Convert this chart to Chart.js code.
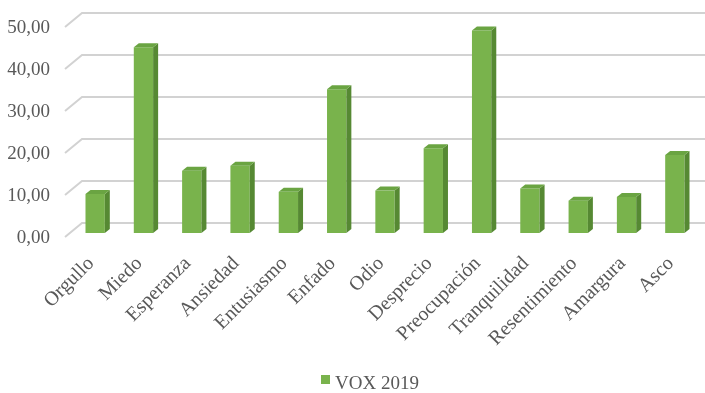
<!DOCTYPE html>
<html>
<head>
<meta charset="utf-8">
<script src="https://cdn.jsdelivr.net/npm/chart.js@4.4.1/dist/chart.umd.min.js"></script>
<style>
  body { margin: 0; background: #fff; }
  #chart { display: block; }
</style>
</head>
<body>
<canvas id="chart" width="705" height="393"></canvas>
<script>
const emociones = ['Orgullo', 'Miedo', 'Esperanza', 'Ansiedad', 'Entusiasmo', 'Enfado', 'Odio',
  'Desprecio', 'Preocupación', 'Tranquilidad', 'Resentimiento', 'Amargura', 'Asco'];
const vox2019 = [9.3, 44.2, 14.8, 16.0, 9.8, 34.2, 10.1, 20.2, 48.2, 10.6, 7.7, 8.6, 18.6];
const serieNombre = 'VOX 2019';
const ejeMin = 0;
const ejeMax = 50;
const ejePaso = 10;

const SERIF = "'Times New Roman', 'Liberation Serif', serif";
const GRIS_TEXTO = '#595959';
const VERDE = '#79b34c';
const VERDE_LADO = '#568933';
const VERDE_TOPE = '#6aa442';

// bar depth for the fake 3d look
const BAR_DX = 5, BAR_DY = 4;

const grid3d = {
  id: 'grid3d',
  beforeDatasetsDraw(chart) {
    const { ctx, chartArea, scales } = chart;
    const y = scales.y;
    ctx.save();
    ctx.strokeStyle = '#d2d2d2';
    ctx.lineWidth = 2;
    for (let v = ejeMin; v <= ejeMax; v += ejePaso) {
      const py = y.getPixelForValue(v);
      ctx.beginPath();
      ctx.moveTo(chartArea.left - 6, py + 4);
      ctx.lineTo(chartArea.left + 11, py - 10);
      ctx.lineTo(chart.width, py - 10);
      ctx.stroke();
    }
    ctx.restore();
  },
  afterDatasetsDraw(chart) {
    const { ctx } = chart;
    const meta = chart.getDatasetMeta(0);
    ctx.save();
    meta.data.forEach(bar => {
      const l = bar.x - bar.width / 2, r = bar.x + bar.width / 2;
      // side
      ctx.fillStyle = VERDE_LADO;
      ctx.beginPath();
      ctx.moveTo(r, bar.y);
      ctx.lineTo(r + BAR_DX, bar.y - BAR_DY);
      ctx.lineTo(r + BAR_DX, bar.base - BAR_DY);
      ctx.lineTo(r, bar.base);
      ctx.closePath();
      ctx.fill();
      // top
      ctx.fillStyle = VERDE_TOPE;
      ctx.beginPath();
      ctx.moveTo(l, bar.y);
      ctx.lineTo(l + BAR_DX, bar.y - BAR_DY);
      ctx.lineTo(r + BAR_DX, bar.y - BAR_DY);
      ctx.lineTo(r, bar.y);
      ctx.closePath();
      ctx.fill();
    });
    ctx.restore();
  },
  afterDraw(chart) {
    // legend
    const { ctx } = chart;
    ctx.save();
    ctx.fillStyle = VERDE;
    ctx.fillRect(321, 375, 9, 9);
    ctx.fillStyle = GRIS_TEXTO;
    ctx.font = '19px ' + SERIF;
    ctx.textBaseline = 'alphabetic';
    ctx.fillText(serieNombre, 335, 389);
    ctx.restore();
  }
};

new Chart(document.getElementById('chart').getContext('2d'), {
  type: 'bar',
  data: {
    labels: emociones,
    datasets: [{
      label: serieNombre,
      data: vox2019,
      backgroundColor: VERDE,
      borderWidth: 0,
      barPercentage: 0.4,
      categoryPercentage: 1
    }]
  },
  options: {
    responsive: false,
    animation: false,
    layout: { padding: { left: 7, right: 6, top: 23, bottom: 33 } },
    plugins: {
      legend: { display: false },
      tooltip: { enabled: false }
    },
    scales: {
      x: {
        grid: { display: false, drawTicks: false },
        border: { display: false },
        ticks: {
          autoSkip: false,
          maxRotation: 45,
          minRotation: 45,
          padding: 19,
          labelOffset: -4,
          color: GRIS_TEXTO,
          font: { family: SERIF, size: 20 }
        },
        afterFit: s => { s.paddingLeft = 0; s.paddingRight = 0; s.height = 127; }
      },
      y: {
        min: ejeMin,
        max: ejeMax,
        grid: { display: false, drawTicks: false },
        border: { display: false },
        ticks: {
          stepSize: ejePaso,
          padding: 21,
          labelOffset: 5,
          color: GRIS_TEXTO,
          font: { family: SERIF, size: 19 },
          callback: v => v.toFixed(2).replace('.', ',')
        },
        afterFit: s => { s.width = 64; s.paddingTop = 0; s.paddingBottom = 0; }
      }
    }
  },
  plugins: [grid3d]
});
</script>
</body>
</html>
